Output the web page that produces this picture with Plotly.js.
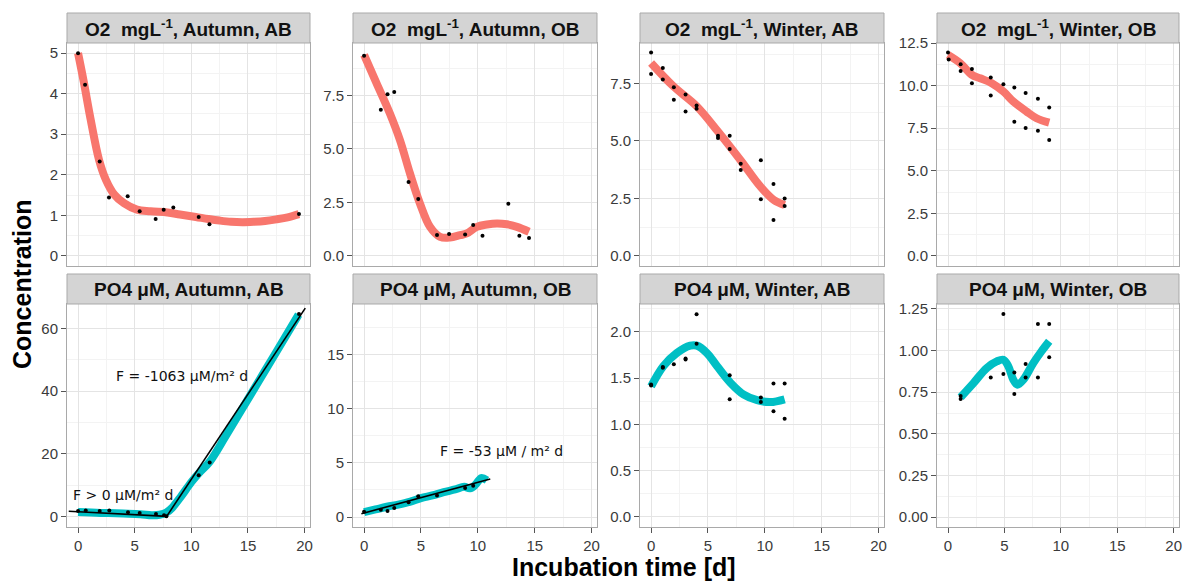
<!DOCTYPE html>
<html>
<head>
<meta charset="utf-8">
<script src="https://cdn.plot.ly/plotly-3.0.1.min.js"></script>
<style>html,body{margin:0;padding:0;background:#fff;}#chart{width:1189px;height:581px;}</style>
</head>
<body>
<div id="chart"></div>
<script>
// ---------------- DATA ----------------
const panelTitles = [
  "O2  mgL<sup>-1</sup>, Autumn, AB", "O2  mgL<sup>-1</sup>, Autumn, OB",
  "O2  mgL<sup>-1</sup>, Winter, AB", "O2  mgL<sup>-1</sup>, Winter, OB",
  "PO4 \u03bcM, Autumn, AB", "PO4 \u03bcM, Autumn, OB",
  "PO4 \u03bcM, Winter, AB", "PO4 \u03bcM, Winter, OB"
];
const xTicks = [0, 5, 10, 15, 20];

// O2 Autumn AB
const o2AutAB_t = [0, 0.62, 1.91, 2.73, 4.38, 5.44, 6.85, 7.56, 8.41, 10.65, 11.6, 19.5];
const o2AutAB_c = [5.0, 4.22, 2.33, 1.44, 1.47, 1.10, 0.91, 1.14, 1.19, 0.96, 0.78, 1.03];
const o2AutAB_fitT = [0, 0.5, 1.1, 1.85, 2.45, 3.2, 4.05, 5.2, 6.4, 7.9, 9, 10.4, 11.5, 12.5, 13.5, 14.5, 15.5, 16.5, 17.5, 18.5, 19.5];
const o2AutAB_fitC = [5.0, 4.3, 3.38, 2.37, 1.88, 1.51, 1.30, 1.14, 1.10, 1.07, 1.02, 0.96, 0.91, 0.87, 0.84, 0.83, 0.84, 0.86, 0.90, 0.95, 1.03];

// O2 Autumn OB
const o2AutOB_t = [0, 1.47, 2.06, 2.65, 3.91, 4.76, 6.41, 7.47, 8.88, 9.59, 10.41, 12.68, 13.65, 14.5];
const o2AutOB_c = [9.36, 6.83, 7.56, 7.66, 3.45, 2.66, 0.98, 1.03, 1.0, 1.45, 0.94, 2.44, 0.94, 0.84];
const o2AutOB_fitT = [0, 1.09, 2.26, 3.15, 4.03, 4.91, 5.79, 6.68, 7.56, 8.44, 9.03, 9.91, 10.8, 11.68, 12.56, 13.44, 14.5];
const o2AutOB_fitC = [9.4, 8.08, 6.67, 5.42, 3.86, 2.45, 1.36, 0.89, 0.86, 0.97, 1.05, 1.36, 1.47, 1.52, 1.48, 1.36, 1.13];

// O2 Winter AB
const o2WinAB_t = [0, 0, 1.03, 1.03, 2.0, 2.0, 3.03, 3.03, 4.0, 4.0, 5.88, 5.88, 6.91, 6.91, 7.88, 7.88, 9.65, 9.65, 10.76, 10.76, 11.74, 11.74];
const o2WinAB_c = [8.85, 7.91, 8.17, 7.67, 7.34, 6.79, 7.02, 6.28, 6.54, 6.40, 5.23, 5.13, 5.23, 4.65, 4.01, 3.74, 4.16, 2.46, 3.13, 1.56, 2.50, 2.17];
const o2WinAB_fitT = [0, 1.97, 4.03, 5.88, 7.85, 9.62, 10.79, 11.74];
const o2WinAB_fitC = [8.39, 7.37, 6.5, 5.41, 4.17, 3.01, 2.43, 2.21];

// O2 Winter OB
const o2WinOB_t = [0, 0.06, 1.12, 1.12, 2.12, 2.12, 3.79, 3.79, 4.91, 5.88, 5.88, 6.88, 6.88, 7.97, 7.97, 8.97, 8.97];
const o2WinOB_c = [11.94, 11.53, 11.25, 10.86, 10.98, 10.14, 10.47, 9.41, 10.08, 9.88, 7.88, 9.57, 7.51, 9.22, 7.35, 8.71, 6.80];
const o2WinOB_fitT = [0, 1.09, 2.12, 2.85, 3.88, 4.91, 5.79, 6.97, 7.85, 8.97];
const o2WinOB_fitC = [11.8, 11.31, 10.63, 10.43, 10.14, 9.65, 9.06, 8.47, 8.08, 7.82];

// PO4 Autumn AB
const po4AutAB_t = [0, 0.68, 1.91, 2.76, 4.41, 5.44, 6.88, 7.59, 7.8, 10.65, 11.62, 19.5];
const po4AutAB_c = [1.8, 2.0, 1.8, 2.0, 1.4, 1.2, 0.85, 0.42, 0.1, 13.2, 17.3, 64.6];
const po4AutAB_fitT = [0, 2, 4, 5.5, 6.5, 7.2, 7.8, 8.3, 9, 10, 10.65, 11.62, 13, 14.5, 16, 17.5, 19.47];
const po4AutAB_fitC = [1.5, 1.2, 1.0, 0.8, 0.45, 0.6, 1.3, 2.8, 6.0, 11.0, 13.8, 17.5, 25.5, 34.5, 43.5, 52.5, 64.4];
const po4AutAB_line1T = [-0.82, 7.85];
const po4AutAB_line1C = [1.7, 0.1];
const po4AutAB_line2T = [7.75, 20.06];
const po4AutAB_line2C = [-0.3, 66.5];
const po4AutAB_labels = ["F = -1063 \u03bcM/m\u00b2 d", "F > 0 \u03bcM/m\u00b2 d"];
const po4AutAB_labelT = [9.18, 3.95];
const po4AutAB_labelC = [44.9, 7.0];

// PO4 Autumn OB
const po4AutOB_t = [0, 1.47, 2.06, 2.65, 3.91, 4.76, 6.41, 8.88, 9.59];
const po4AutOB_c = [0.5, 0.68, 0.55, 0.83, 1.36, 1.91, 2.0, 2.68, 2.9];
const po4AutOB_fitT = [0, 1, 2, 3, 4, 5, 6, 7, 8, 8.8, 9.3, 9.8, 10.3, 10.8];
const po4AutOB_fitC = [0.45, 0.7, 0.95, 1.15, 1.4, 1.75, 2.0, 2.3, 2.55, 2.8, 2.65, 3.0, 3.6, 3.4];
const po4AutOB_lineT = [-0.24, 11.09];
const po4AutOB_lineC = [0.31, 3.51];
const po4AutOB_labels = ["F = -53 \u03bcM / m\u00b2 d"];
const po4AutOB_labelT = [12.05];
const po4AutOB_labelC = [6.07];

// PO4 Winter AB
const po4WinAB_t = [0, 0, 1.03, 1.03, 2.0, 3.03, 3.03, 4.0, 4.0, 6.91, 6.91, 9.65, 9.65, 10.76, 10.76, 11.74, 11.74];
const po4WinAB_c = [1.43, 1.42, 1.62, 1.61, 1.65, 1.71, 1.70, 2.19, 1.87, 1.53, 1.27, 1.29, 1.24, 1.44, 1.14, 1.44, 1.06];
const po4WinAB_fitT = [0, 1.09, 2.26, 3.44, 4.03, 4.91, 5.79, 6.97, 8.15, 9.32, 10.5, 11.74];
const po4WinAB_fitC = [1.41, 1.63, 1.77, 1.85, 1.85, 1.77, 1.63, 1.45, 1.32, 1.26, 1.24, 1.27];

// PO4 Winter OB
const po4WinOB_t = [1.12, 1.12, 3.79, 4.91, 4.91, 5.88, 5.88, 6.88, 6.88, 7.97, 7.97, 8.97, 8.97];
const po4WinOB_c = [0.727, 0.709, 0.839, 1.22, 0.859, 0.869, 0.739, 0.92, 0.839, 1.16, 0.839, 1.16, 0.96];
const po4WinOB_fitT = [1.12, 2.26, 3.44, 4.32, 4.91, 5.35, 5.79, 6.15, 6.68, 7.56, 8.29, 8.97];
const po4WinOB_fitC = [0.72, 0.805, 0.896, 0.935, 0.945, 0.905, 0.825, 0.795, 0.825, 0.925, 0.996, 1.056];

// ---------------- LAYOUT / STYLE ----------------
const W = 1189, H = 581;
const RED = "#F8766D", CYAN = "#00BFC4";
const colsPx = [[67, 310], [353, 597], [640, 884], [937, 1179]];
const rowsPx = [{strip: 13, top: 43, bottom: 266}, {strip: 274, top: 304, bottom: 527}];
const panelStyle = [
  {yr: [-0.25, 5.25], dt: 1, fmt: "", fit: RED},
  {yr: [-0.47, 9.95], dt: 2.5, fmt: ".1f", fit: RED},
  {yr: [-0.44, 9.26], dt: 2.5, fmt: ".1f", fit: RED},
  {yr: [-0.595, 12.5], dt: 2.5, fmt: ".1f", fit: RED},
  {yr: [-3.3, 67.8], dt: 20, fmt: "", fit: CYAN},
  {yr: [-0.92, 19.68], dt: 5, fmt: "", fit: CYAN},
  {yr: [-0.11, 2.30], dt: 0.5, fmt: ".1f", fit: CYAN},
  {yr: [-0.06, 1.28], dt: 0.25, fmt: ".2f", fit: CYAN}
];
const panelData = [
  {t: o2AutAB_t, c: o2AutAB_c, ft: o2AutAB_fitT, fc: o2AutAB_fitC},
  {t: o2AutOB_t, c: o2AutOB_c, ft: o2AutOB_fitT, fc: o2AutOB_fitC},
  {t: o2WinAB_t, c: o2WinAB_c, ft: o2WinAB_fitT, fc: o2WinAB_fitC},
  {t: o2WinOB_t, c: o2WinOB_c, ft: o2WinOB_fitT, fc: o2WinOB_fitC},
  {t: po4AutAB_t, c: po4AutAB_c, ft: po4AutAB_fitT, fc: po4AutAB_fitC,
   lines: [[po4AutAB_line1T, po4AutAB_line1C], [po4AutAB_line2T, po4AutAB_line2C]],
   labels: [po4AutAB_labels, po4AutAB_labelT, po4AutAB_labelC]},
  {t: po4AutOB_t, c: po4AutOB_c, ft: po4AutOB_fitT, fc: po4AutOB_fitC,
   lines: [[po4AutOB_lineT, po4AutOB_lineC]],
   labels: [po4AutOB_labels, po4AutOB_labelT, po4AutOB_labelC]},
  {t: po4WinAB_t, c: po4WinAB_c, ft: po4WinAB_fitT, fc: po4WinAB_fitC},
  {t: po4WinOB_t, c: po4WinOB_c, ft: po4WinOB_fitT, fc: po4WinOB_fitC}
];

const FONT = "Liberation Sans, Arial, Helvetica, sans-serif";
const GRID = "#e4e4e4", MINOR = "#f3f3f3", BORDER = "#a9a9a9";
const traces = [];
const layout = {
  width: W, height: H,
  margin: {l: 0, r: 0, t: 0, b: 0},
  paper_bgcolor: "#fff", plot_bgcolor: "#fff",
  showlegend: false,
  shapes: [], annotations: []
};
const px2x = p => p / W;
const px2y = p => 1 - p / H;

for (let i = 0; i < 8; i++) {
  const row = Math.floor(i / 4), col = i % 4;
  const sfx = i === 0 ? "" : String(i + 1);
  const xa = "x" + sfx, ya = "y" + sfx;
  const st = panelStyle[i], d = panelData[i];
  const cx = colsPx[col], ry = rowsPx[row];
  const bottomRow = row === 1;
  layout["xaxis" + sfx] = {
    domain: [px2x(cx[0]), px2x(cx[1])],
    anchor: ya,
    range: [-0.975, 20.475],
    tickvals: xTicks,
    ticktext: xTicks.map(String),
    showgrid: true, gridcolor: GRID, gridwidth: 1,
    minor: {dtick: 2.5, tick0: 0, showgrid: true, gridcolor: MINOR, ticks: ""},
    zeroline: false,
    showline: true, mirror: true, linecolor: BORDER, linewidth: 1,
    ticks: bottomRow ? "outside" : "", ticklen: 5, tickcolor: "#555", tickwidth: 1,
    showticklabels: bottomRow,
    tickfont: {family: FONT, size: 15, color: "#3a3a3a"},
    fixedrange: true
  };
  layout["yaxis" + sfx] = {
    domain: [px2y(ry.bottom), px2y(ry.top)],
    anchor: xa,
    range: st.yr,
    tick0: 0, dtick: st.dt,
    tickformat: st.fmt,
    showgrid: true, gridcolor: GRID, gridwidth: 1,
    minor: {dtick: st.dt / 2, tick0: 0, showgrid: true, gridcolor: MINOR, ticks: ""},
    zeroline: false,
    showline: true, mirror: true, linecolor: BORDER, linewidth: 1,
    ticks: "outside", ticklen: 5, tickcolor: "#555", tickwidth: 1,
    tickfont: {family: FONT, size: 15, color: "#3a3a3a"},
    fixedrange: true
  };
  // strip
  layout.shapes.push({
    type: "rect", xref: "paper", yref: "paper",
    x0: px2x(cx[0]), x1: px2x(cx[1]),
    y0: px2y(ry.top), y1: px2y(ry.strip),
    fillcolor: "#d4d4d4", line: {color: BORDER, width: 1}
  });
  layout.annotations.push({
    xref: "paper", yref: "paper",
    x: px2x((cx[0] + cx[1]) / 2), y: px2y((ry.strip + ry.top) / 2),
    xanchor: "center", yanchor: "middle",
    text: "<b>" + panelTitles[i] + "</b>",
    showarrow: false,
    font: {family: FONT, size: 19, color: "#111"}
  });
  // fitted smooth
  traces.push({
    type: "scatter", mode: "lines", x: d.ft, y: d.fc, xaxis: xa, yaxis: ya,
    line: {color: st.fit, width: 8, shape: "spline", smoothing: 1},
    hoverinfo: "skip"
  });
  // linear fits
  if (d.lines) {
    d.lines.forEach(l => traces.push({
      type: "scatter", mode: "lines", x: l[0], y: l[1], xaxis: xa, yaxis: ya,
      line: {color: "#000", width: 1.6}, hoverinfo: "skip"
    }));
  }
  // points
  traces.push({
    type: "scatter", mode: "markers", x: d.t, y: d.c, xaxis: xa, yaxis: ya,
    marker: {color: "#000", size: 4}, hoverinfo: "skip"
  });
  if (d.labels) {
    const [txt, lt, lc] = d.labels;
    txt.forEach((s, k) => layout.annotations.push({
      xref: xa, yref: ya, x: lt[k], y: lc[k], text: s, showarrow: false,
      xanchor: "center", yanchor: "middle",
      font: {family: "DejaVu Sans, sans-serif", size: 14, color: "#111"}
    }));
  }
}

// axis titles
layout.annotations.push({
  xref: "paper", yref: "paper", x: px2x(22), y: px2y(285),
  xanchor: "center", yanchor: "middle", textangle: -90,
  text: "<b>Concentration</b>", showarrow: false,
  font: {family: FONT, size: 25, color: "#000"}
});
layout.annotations.push({
  xref: "paper", yref: "paper", x: px2x(623.5), y: px2y(567),
  xanchor: "center", yanchor: "middle",
  text: "<b>Incubation time [d]</b>", showarrow: false,
  font: {family: FONT, size: 25, color: "#000"}
});

Plotly.newPlot("chart", traces, layout, {displayModeBar: false, staticPlot: true});
</script>
</body>
</html>
